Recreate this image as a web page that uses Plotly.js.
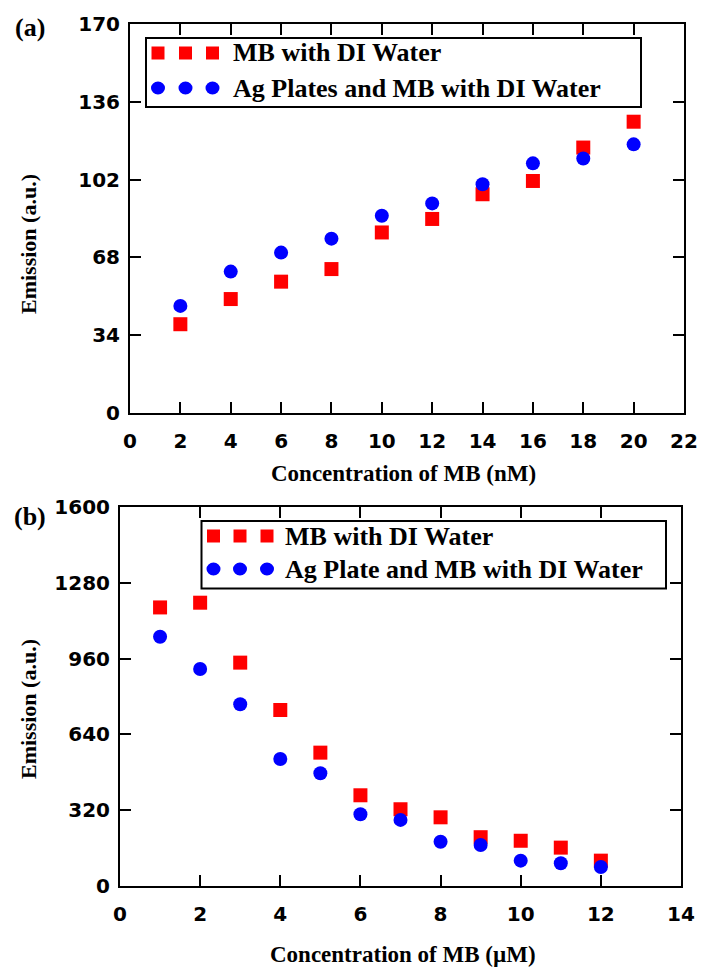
<!DOCTYPE html>
<html>
<head>
<meta charset="utf-8">
<script src="https://cdn.plot.ly/plotly-3.0.1.min.js"></script>
<style>
  html, body { margin: 0; padding: 0; background: #fff; }
  #chart { width: 707px; height: 967px; }
</style>
</head>
<body>
<div id="chart"></div>
<script>
// Panel (a): emission vs MB concentration in nM
const concNM = [2, 4, 6, 8, 10, 12, 14, 16, 18, 20];
const mbWaterA = [38.8, 49.8, 57.4, 62.9, 78.9, 84.8, 95.6, 101.4, 116.0, 127.3];
const agMbWaterA = [46.8, 61.8, 70.1, 76.2, 86.2, 91.6, 100.0, 109.1, 111.2, 117.4];

// Panel (b): emission vs MB concentration in µM
const concUM = [1, 2, 3, 4, 5, 6, 7, 8, 9, 10, 11, 12];
const mbWaterB = [1176, 1196, 943, 743, 563, 383, 324, 290, 206, 191, 162, 107];
const agMbWaterB = [1052, 916, 767, 536, 476, 303, 279, 187, 173, 107, 96, 80];

const yTicksA = [0, 34, 68, 102, 136, 170];
const yTicksB = [0, 320, 640, 960, 1280, 1600];

const legendA = ['MB with DI Water', 'Ag Plates and MB with DI Water'];
const legendB = ['MB with DI Water', 'Ag Plate and MB with DI Water'];

const W = 707, H = 967;
const fx = p => p / W;
const fy = p => 1 - p / H;

const RED = '#ff0000';
const BLUE = '#0000ff';
const SERIF = 'Liberation Serif, Times New Roman, serif';
const SANS = 'DejaVu Sans, Arial, sans-serif';

const tickFont = { family: SANS, size: 20, color: '#000', weight: 'bold' };

function xAxis(domain, range, anchor) {
  return {
    domain: domain, range: range, anchor: anchor,
    tick0: 0, dtick: 2,
    ticks: 'inside', ticklen: 11, tickwidth: 2, tickcolor: '#000',
    showline: true, linewidth: 2, linecolor: '#000', mirror: 'ticks',
    showgrid: false, zeroline: false,
    tickfont: tickFont, ticklabelstandoff: 9
  };
}
function yAxis(domain, range, vals, anchor) {
  return {
    domain: domain, range: range, anchor: anchor,
    tickvals: vals, ticktext: vals.map(String),
    ticks: 'inside', ticklen: 11, tickwidth: 2, tickcolor: '#000',
    showline: true, linewidth: 2, linecolor: '#000', mirror: 'ticks',
    showgrid: false, zeroline: false,
    tickfont: tickFont, ticklabelstandoff: 4
  };
}

const sq = { symbol: 'square', size: 14, color: RED };
const ci = { symbol: 'circle', size: 14, color: BLUE };

const traces = [
  { x: concNM, y: mbWaterA, type: 'scatter', mode: 'markers', marker: sq, xaxis: 'x', yaxis: 'y', name: legendA[0] },
  { x: concNM, y: agMbWaterA, type: 'scatter', mode: 'markers', marker: ci, xaxis: 'x', yaxis: 'y', name: legendA[1] },
  { x: concUM, y: mbWaterB, type: 'scatter', mode: 'markers', marker: sq, xaxis: 'x2', yaxis: 'y2', name: legendB[0] },
  { x: concUM, y: agMbWaterB, type: 'scatter', mode: 'markers', marker: ci, xaxis: 'x2', yaxis: 'y2', name: legendB[1] }
];

// Hand-built legend boxes: a frame, three sample markers per row and the label
function legendBox(box, markX, rowY, textX, labels) {
  const shapes = [{
    type: 'rect', xref: 'paper', yref: 'paper',
    x0: fx(box[0]), x1: fx(box[2]), y0: fy(box[1]), y1: fy(box[3]),
    line: { color: '#000', width: 2 }, fillcolor: '#fff'
  }];
  const s = 6.5;
  markX.forEach(cx => {
    shapes.push({ type: 'rect', xref: 'paper', yref: 'paper',
      x0: fx(cx - s), x1: fx(cx + s), y0: fy(rowY[0] - s), y1: fy(rowY[0] + s),
      line: { width: 0 }, fillcolor: RED });
    shapes.push({ type: 'circle', xref: 'paper', yref: 'paper',
      x0: fx(cx - 7), x1: fx(cx + 7), y0: fy(rowY[1] - 6.5), y1: fy(rowY[1] + 6.5),
      line: { width: 0 }, fillcolor: BLUE });
  });
  const annots = labels.map((t, i) => ({
    text: t, xref: 'paper', yref: 'paper', x: fx(textX), y: fy(rowY[i]),
    xanchor: 'left', yanchor: 'middle', showarrow: false,
    font: { family: SERIF, size: 26, color: '#000', weight: 'bold' }
  }));
  return { shapes, annots };
}

const legA = legendBox([146, 38, 641, 107], [158, 185.5, 212.5], [53, 88], 231, legendA);
const legB = legendBox([201.5, 521, 666, 588.5], [213.5, 240, 267], [536, 569], 283, legendB);

const titleFont = { family: SERIF, size: 23, color: '#000', weight: 'bold' };
const yTitleFont = { family: SERIF, size: 22, color: '#000', weight: 'bold' };
const labelFont = { family: SERIF, size: 26, color: '#000', weight: 'bold' };

const annotations = [
  { text: '(a)', x: fx(30), y: fy(27), xanchor: 'center', yanchor: 'middle', font: labelFont },
  { text: '(b)', x: fx(30), y: fy(516), xanchor: 'center', yanchor: 'middle', font: labelFont },
  { text: 'Concentration of MB (nM)', x: fx(403), y: fy(473), xanchor: 'center', yanchor: 'middle', font: titleFont },
  { text: 'Concentration of MB (µM)', x: fx(403), y: fy(954), xanchor: 'center', yanchor: 'middle', font: titleFont },
  { text: 'Emission (a.u.)', x: fx(28), y: fy(244), xanchor: 'center', yanchor: 'middle', textangle: -90, font: yTitleFont },
  { text: 'Emission (a.u.)', x: fx(28), y: fy(709), xanchor: 'center', yanchor: 'middle', textangle: -90, font: yTitleFont }
].map(a => Object.assign({ xref: 'paper', yref: 'paper', showarrow: false }, a));

const layout = {
  width: W, height: H,
  margin: { l: 0, r: 0, t: 0, b: 0 },
  paper_bgcolor: '#fff', plot_bgcolor: '#fff',
  showlegend: false,
  xaxis: xAxis([fx(130), fx(684)], [0, 22], 'y'),
  yaxis: yAxis([fy(413), fy(24)], [0, 170], yTicksA, 'x'),
  xaxis2: xAxis([fx(120), fx(681)], [0, 14], 'y2'),
  yaxis2: yAxis([fy(886), fy(507)], [0, 1600], yTicksB, 'x2'),
  shapes: legA.shapes.concat(legB.shapes),
  annotations: annotations.concat(legA.annots, legB.annots)
};

Plotly.newPlot('chart', traces, layout, { displayModeBar: false, staticPlot: true });
</script>
</body>
</html>
